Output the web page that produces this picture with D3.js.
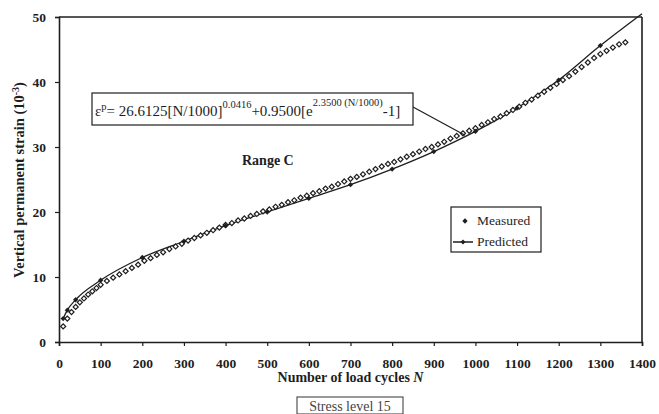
<!DOCTYPE html>
<html>
<head>
<meta charset="utf-8">
<script src="https://cdn.jsdelivr.net/npm/d3@7"></script>
<style>
  html, body { margin: 0; padding: 0; background: #fff; }
  svg { display: block; font-family: "Liberation Serif", "Times New Roman", serif; }
</style>
</head>
<body>
<svg id="chart" width="659" height="414"></svg>
<script>
// Measured permanent strain (10^-3) against number of load cycles N
const measuredN = [10, 20, 30, 40, 50, 60, 70, 80, 90, 100,
  115, 130, 145, 160, 175, 190, 205, 220, 235, 250, 265, 280, 295,
  310, 325, 340, 355, 370, 385, 400, 415, 430, 445, 460, 475, 490,
  505, 520, 535, 550, 565, 580, 595, 610, 625, 640, 655, 670, 685,
  700, 715, 730, 745, 760, 775, 790, 805, 820, 835, 850, 865, 880,
  895, 910, 925, 940, 955, 970, 985, 1000, 1015, 1030, 1045, 1060,
  1075, 1090, 1105, 1120, 1135, 1150, 1165, 1180, 1195, 1210, 1225,
  1240, 1255, 1270, 1285, 1300, 1315, 1330, 1345, 1360];
const measuredStrain = [2.4, 3.6, 4.6, 5.4, 6.1, 6.7, 7.3, 7.8, 8.3, 8.8,
  9.4, 9.9, 10.4, 10.9, 11.4, 11.9, 12.5, 12.9, 13.4, 13.8, 14.3, 14.7, 15.1,
  15.6, 16.0, 16.4, 16.8, 17.2, 17.6, 18.0, 18.3, 18.7, 19.0, 19.4, 19.7, 20.1,
  20.4, 20.8, 21.1, 21.5, 21.8, 22.2, 22.5, 22.9, 23.2, 23.6, 23.9, 24.3, 24.7,
  25.1, 25.4, 25.8, 26.2, 26.6, 27.0, 27.4, 27.7, 28.1, 28.5, 28.9, 29.3, 29.7,
  30.0, 30.4, 30.8, 31.3, 31.7, 32.1, 32.5, 32.9, 33.4, 33.8, 34.3, 34.7,
  35.2, 35.7, 36.2, 36.8, 37.3, 37.9, 38.5, 39.1, 39.7, 40.3, 40.9,
  41.6, 42.3, 43.0, 43.7, 44.3, 44.8, 45.3, 45.8, 46.1];

// Model prediction of the same strain
const predictedN = [10, 20, 40, 100, 200, 300, 400, 500, 600, 700, 800, 900, 1000, 1100, 1200, 1300, 1400];
const predictedStrain = [3.6, 4.9, 6.5, 9.5, 13.0, 15.5, 17.9, 20.0, 22.1, 24.2, 26.6, 29.3, 32.4, 36.0, 40.3, 45.6, 50.5];
// Cycles at which the prediction carries a marker
const predictedMarked = [10, 20, 40, 100, 200, 300, 400, 500, 600, 700, 800, 900, 1000, 1100, 1200, 1300];

const xTicks = [0, 100, 200, 300, 400, 500, 600, 700, 800, 900, 1000, 1100, 1200, 1300, 1400];
const yTicks = [0, 10, 20, 30, 40, 50];

const ink = "#1e1e1e";
const svg = d3.select("#chart");

const x = d3.scaleLinear().domain([0, 1400]).range([59, 642]);
const y = d3.scaleLinear().domain([0, 50]).range([342, 17]);

// frame: top and right edges
svg.append("line").attr("x1", x(0)).attr("x2", x(1400)).attr("y1", y(50)).attr("y2", y(50))
  .attr("stroke", ink).attr("stroke-width", 1.6);
svg.append("line").attr("x1", x(1400)).attr("x2", x(1400)).attr("y1", y(50)).attr("y2", y(0))
  .attr("stroke", ink).attr("stroke-width", 1.6);

const xAxis = svg.append("g").attr("transform", `translate(0,${y(0)})`)
  .call(d3.axisBottom(x).tickValues(xTicks).tickSize(4).tickPadding(12).tickFormat(d3.format("d")));
const yAxis = svg.append("g").attr("transform", `translate(${x(0)},0)`)
  .call(d3.axisLeft(y).tickValues(yTicks).tickSize(4).tickPadding(9).tickFormat(d3.format("d")));
[xAxis, yAxis].forEach(g => {
  g.select(".domain").attr("stroke", ink).attr("stroke-width", 1.6);
  g.selectAll(".tick line").attr("stroke", ink).attr("stroke-width", 1.2);
  g.selectAll(".tick text").attr("fill", ink).attr("font-size", 13.5).attr("font-weight", "bold")
    .attr("font-family", "Liberation Serif");
});

// predicted curve
const line = d3.line().x(d => x(d[0])).y(d => y(d[1])).curve(d3.curveMonotoneX);
const predicted = predictedN.map((n, i) => [n, predictedStrain[i]]);
svg.append("path").datum(predicted).attr("d", line)
  .attr("fill", "none").attr("stroke", ink).attr("stroke-width", 1.3);

// measured points: open diamonds
const openDiamond = d3.symbol().type(d3.symbolSquare).size(13);
svg.append("g").selectAll("path").data(measuredN.map((n, i) => [n, measuredStrain[i]]))
  .join("path")
  .attr("d", openDiamond)
  .attr("transform", d => `translate(${x(d[0])},${y(d[1])}) rotate(45)`)
  .attr("fill", "#fff").attr("stroke", ink).attr("stroke-width", 1.2);

// predicted markers: small filled diamonds
const solidDiamond = d3.symbol().type(d3.symbolSquare).size(14);
svg.append("g").selectAll("path").data(predicted.filter(d => predictedMarked.includes(d[0])))
  .join("path")
  .attr("d", solidDiamond)
  .attr("transform", d => `translate(${x(d[0])},${y(d[1])}) rotate(45)`)
  .attr("fill", ink);

// axis titles
svg.append("text").attr("x", x(700)).attr("y", 382).attr("text-anchor", "middle")
  .attr("font-size", 14).attr("font-weight", "bold").attr("fill", ink)
  .text("Number of load cycles ")
  .append("tspan").attr("font-style", "italic").text("N");

const yTitle = svg.append("text").attr("transform", "translate(24,180) rotate(-90)")
  .attr("text-anchor", "middle").attr("font-size", 14.5).attr("font-weight", "bold").attr("fill", ink);
yTitle.append("tspan").text("Vertical permanent strain (10");
yTitle.append("tspan").attr("font-size", 10).attr("dy", -5).text("-3");
yTitle.append("tspan").attr("dy", 5).text(")");

// range label
svg.append("text").attr("x", 242).attr("y", 165).attr("font-size", 14).attr("font-weight", "bold")
  .attr("fill", ink).text("Range C");

// model equation box with leader to the curve
const eqBox = { x0: 92, y0: 93, x1: 413, y1: 125 };
svg.append("line").attr("x1", eqBox.x1).attr("y1", 107).attr("x2", x(975)).attr("y2", y(31.8))
  .attr("stroke", ink).attr("stroke-width", 1.2);
svg.append("rect").attr("x", eqBox.x0).attr("y", eqBox.y0)
  .attr("width", eqBox.x1 - eqBox.x0).attr("height", eqBox.y1 - eqBox.y0)
  .attr("fill", "#fff").attr("stroke", ink).attr("stroke-width", 1.2);
const eq = svg.append("text").attr("x", eqBox.x0 + 3).attr("y", 116)
  .attr("font-size", 15).attr("fill", ink);
eq.append("tspan").text("ε");
eq.append("tspan").attr("font-size", 10.5).attr("dy", -6).text("p");
eq.append("tspan").attr("dy", 6).text("= 26.6125[N/1000]");
eq.append("tspan").attr("font-size", 10.5).attr("dy", -8).text("0.0416");
eq.append("tspan").attr("dy", 8).text("+0.9500[e");
eq.append("tspan").attr("font-size", 10.5).attr("dy", -10).text("2.3500 (N/1000)");
eq.append("tspan").attr("dy", 10).text("-1]");

// legend
const lg = svg.append("g").attr("transform", "translate(451,207)");
lg.append("rect").attr("width", 90).attr("height", 45).attr("fill", "#fff")
  .attr("stroke", ink).attr("stroke-width", 1.2);
lg.append("path").attr("d", d3.symbol().type(d3.symbolSquare).size(14))
  .attr("transform", "translate(14,14) rotate(45)").attr("fill", ink);
lg.append("text").attr("x", 26).attr("y", 18).attr("font-size", 13.5).attr("fill", ink).text("Measured");
lg.append("line").attr("x1", 2).attr("x2", 22).attr("y1", 35).attr("y2", 35)
  .attr("stroke", ink).attr("stroke-width", 1.5);
lg.append("path").attr("d", d3.symbol().type(d3.symbolSquare).size(12))
  .attr("transform", "translate(12,35) rotate(45)").attr("fill", ink);
lg.append("text").attr("x", 26).attr("y", 39).attr("font-size", 13.5).attr("fill", ink).text("Predicted");

// stress level caption
svg.append("rect").attr("x", 297).attr("y", 397).attr("width", 106).attr("height", 17)
  .attr("fill", "#fff").attr("stroke", "#555").attr("stroke-width", 1.2);
svg.append("text").attr("x", 350).attr("y", 410.5).attr("text-anchor", "middle")
  .attr("font-size", 14).attr("fill", "#444").text("Stress level 15");
</script>
</body>
</html>
